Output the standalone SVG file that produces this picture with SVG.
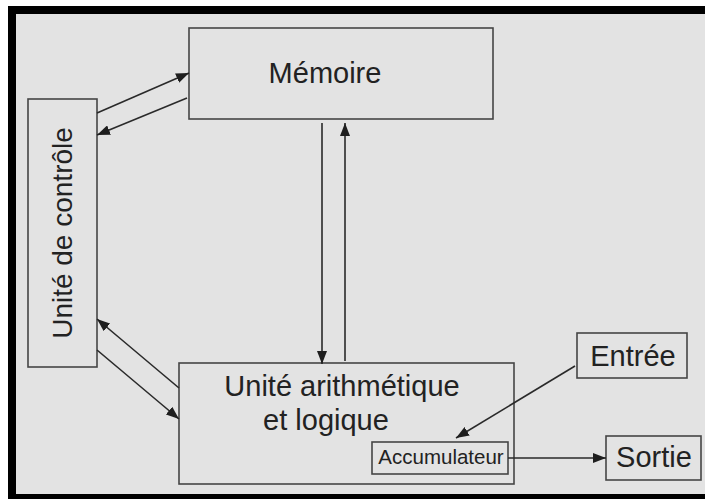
<svg xmlns="http://www.w3.org/2000/svg" width="705" height="499" viewBox="0 0 705 499">
  <style>
    .box { fill: none; stroke: #454545; stroke-width: 1.6; }
    .wire { fill: none; stroke: #2a2a2a; stroke-width: 1.6; }
    .lbl { font-family: "Liberation Sans", Arial, sans-serif; fill: #222; }
  </style>
  <defs>
    <marker id="arrow" markerUnits="userSpaceOnUse" markerWidth="13" markerHeight="10" refX="13" refY="5" orient="auto">
      <path d="M0,0 L13,5 L0,10 z" fill="#1e1e1e"/>
    </marker>
  </defs>

  <!-- frame -->
  <rect x="0" y="0" width="705" height="499" fill="#ffffff"/>
  <rect x="8" y="6" width="697" height="493" fill="#000000"/>
  <rect x="16" y="14" width="689" height="480" fill="#e3e3e3"/>

  <g id="memoire">
    <rect class="box" x="189" y="28" width="304" height="91"/>
    <text class="lbl" x="325" y="83" font-size="29" text-anchor="middle">Mémoire</text>
  </g>

  <g id="controle">
    <rect class="box" x="28" y="99" width="69" height="268"/>
    <text class="lbl" transform="translate(72,233) rotate(-90)" font-size="28" text-anchor="middle">Unité de contrôle</text>
  </g>

  <g id="ual">
    <rect class="box" x="179" y="363" width="335" height="121"/>
    <text class="lbl" x="342" y="396" font-size="29" text-anchor="middle">Unité arithmétique</text>
    <text class="lbl" x="326" y="430" font-size="29" text-anchor="middle">et logique</text>
  </g>

  <g id="accumulateur">
    <rect class="box" x="372" y="442" width="136" height="32"/>
    <text class="lbl" x="441" y="464" font-size="20.5" text-anchor="middle">Accumulateur</text>
  </g>

  <g id="entree">
    <rect class="box" x="577" y="333" width="110" height="45"/>
    <text class="lbl" x="633" y="366" font-size="29" text-anchor="middle">Entrée</text>
  </g>

  <g id="sortie">
    <rect class="box" x="606" y="436" width="95" height="44"/>
    <text class="lbl" x="654" y="467" font-size="29" text-anchor="middle">Sortie</text>
  </g>

  <g id="connectors" class="wire" marker-end="url(#arrow)">
    <line x1="97" y1="113" x2="189" y2="73"/>
    <line x1="187" y1="98" x2="97" y2="135"/>
    <line x1="322" y1="123" x2="322" y2="364"/>
    <line x1="345" y1="361" x2="345" y2="123"/>
    <line x1="179" y1="388" x2="97" y2="319"/>
    <line x1="97" y1="350" x2="179" y2="419"/>
    <line x1="575" y1="366" x2="456" y2="438"/>
    <line x1="508" y1="458" x2="606" y2="458"/>
  </g>
</svg>
